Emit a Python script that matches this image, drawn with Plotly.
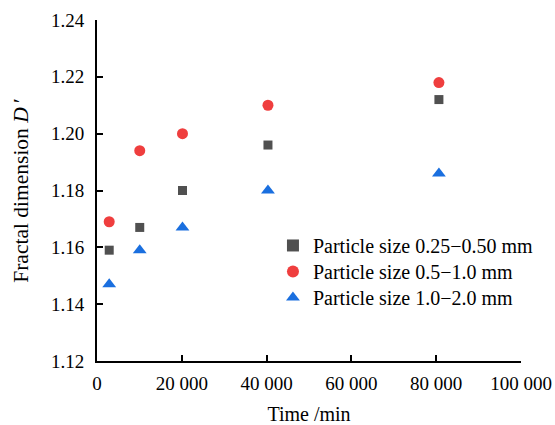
import plotly.graph_objects as go

time_min = [2880, 10080, 20160, 40320, 80640]
d_025_050 = [1.159, 1.167, 1.180, 1.196, 1.212]
d_05_10 = [1.169, 1.194, 1.200, 1.210, 1.218]
d_10_20 = [1.147, 1.159, 1.167, 1.180, 1.186]
series_names = ["Particle size 0.25\u22120.50 mm",
                "Particle size 0.5\u22121.0 mm",
                "Particle size 1.0\u22122.0 mm"]
x_ticks = [0, 20000, 40000, 60000, 80000, 100000]
x_tick_labels = ["0", "20 000", "40 000", "60 000", "80 000", "100 000"]
y_ticks = [1.12, 1.14, 1.16, 1.18, 1.20, 1.22, 1.24]
y_tick_labels = ["1.12", "1.14", "1.16", "1.18", "1.20", "1.22", "1.24"]

FONT = "Liberation Serif, Times New Roman, serif"

fig = go.Figure()
fig.add_trace(go.Scatter(x=time_min, y=d_025_050, mode="markers", name=series_names[0],
                         legend="legend",
                         marker=dict(symbol="square", size=9, color="#505050")))
fig.add_trace(go.Scatter(x=time_min, y=d_05_10, mode="markers", name=series_names[1],
                         legend="legend2",
                         marker=dict(symbol="circle", size=11, color="#EF3E3E")))
fig.add_trace(go.Scatter(x=time_min, y=d_10_20, mode="markers", name=series_names[2],
                         legend="legend3",
                         marker=dict(symbol="triangle-up", size=12, color="#1A6FDF")))

leg_common = dict(x=0.415, xanchor="left", yanchor="middle",
                  bgcolor="rgba(0,0,0,0)", font=dict(size=20), itemsizing="constant")
fig.update_layout(
    width=555, height=425,
    margin=dict(l=97, r=34, t=20, b=64),
    plot_bgcolor="white", paper_bgcolor="white",
    font=dict(family=FONT, size=19, color="black"),
    showlegend=True,
    legend=dict(y=0.3388, **leg_common),
    legend2=dict(y=0.2626, **leg_common),
    legend3=dict(y=0.1864, **leg_common),
)
fig.update_xaxes(range=[0, 100000], tickvals=x_ticks, ticktext=x_tick_labels,
                 showline=True, linecolor="black", linewidth=2,
                 ticks="inside", ticklen=6, tickwidth=1.5, tickcolor="black",
                 showgrid=False, zeroline=False, automargin=False,
                 ticklabelstandoff=4,
                 title=dict(text="Time /min", standoff=15, font=dict(size=20)))
fig.update_yaxes(range=[1.12, 1.24], tickvals=y_ticks, ticktext=y_tick_labels,
                 showline=True, linecolor="black", linewidth=2,
                 ticks="inside", ticklen=6, tickwidth=1.5, tickcolor="black",
                 showgrid=False, zeroline=False, automargin=False,
                 ticklabelstandoff=7,
                 title=dict(text="\u00a0\u00a0Fractal dimension <i>D</i>\u2009\u2032", standoff=16,
                            font=dict(size=21.5)))

fig.write_html("out.html", config={"displayModeBar": False},
               post_script="document.body.style.margin='0';document.body.style.overflow='hidden';")
